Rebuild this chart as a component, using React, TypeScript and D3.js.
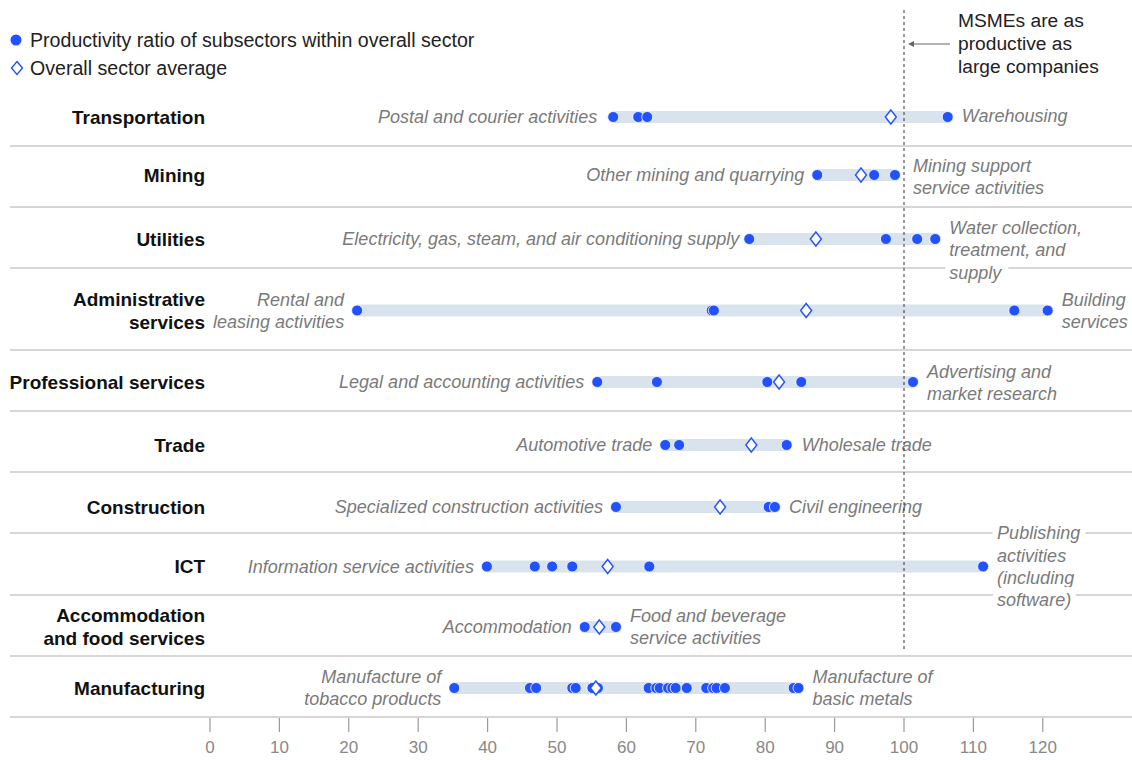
import React, { useEffect } from "react";
import * as d3 from "d3";

// ---------- DATA ----------
const sectorLines: string[][] = [
  ["Transportation"],
  ["Mining"],
  ["Utilities"],
  ["Administrative", "services"],
  ["Professional services"],
  ["Trade"],
  ["Construction"],
  ["ICT"],
  ["Accommodation", "and food services"],
  ["Manufacturing"],
];

const subsectorValues: number[][] = [
  [58.1, 61.7, 63.0, 106.3],
  [87.5, 95.7, 98.7],
  [77.7, 97.4, 101.9, 104.5],
  [21.2, 72.3, 72.6, 115.9, 120.7],
  [55.8, 64.4, 80.3, 85.2, 101.3],
  [65.6, 67.6, 83.1],
  [58.5, 80.5, 81.4],
  [39.9, 46.8, 49.3, 52.2, 63.3, 111.4],
  [54.0, 58.5],
  [35.2, 46.1, 47.0, 52.2, 52.7, 55.1, 55.9, 63.2, 64.3, 64.8, 66.0, 66.6, 67.1, 68.7, 71.5, 72.5, 73.0, 74.2, 84.1, 84.8],
];

const sectorAverages: number[] = [98.1, 93.8, 87.3, 85.9, 82.0, 78.0, 73.5, 57.3, 56.1, 55.6];

const leftLabels: string[][] = [
  ["Postal and courier activities"],
  ["Other mining and quarrying"],
  ["Electricity, gas, steam, and air conditioning supply"],
  ["Rental and", "leasing activities"],
  ["Legal and accounting activities"],
  ["Automotive trade"],
  ["Specialized construction activities"],
  ["Information service activities"],
  ["Accommodation"],
  ["Manufacture of", "tobacco products"],
];

const rightLabels: string[][] = [
  ["Warehousing"],
  ["Mining support", "service activities"],
  ["Water collection,", "treatment, and", "supply"],
  ["Building", "services"],
  ["Advertising and", "market research"],
  ["Wholesale trade"],
  ["Civil engineering"],
  ["Publishing", "activities", "(including", "software)"],
  ["Food and beverage", "service activities"],
  ["Manufacture of", "basic metals"],
];

const xTicks: number[] = [0, 10, 20, 30, 40, 50, 60, 70, 80, 90, 100, 110, 120];
const parityValue = 100;
const legendItems: string[] = ["Productivity ratio of subsectors within overall sector", "Overall sector average"];
const annotationLines: string[] = ["MSMEs are as", "productive as", "large companies"];

// ---------- LAYOUT / STYLE ----------
const W = 1132;
const H = 760;
const rowTop = 85;
const rowHeights = [61, 61, 61, 82, 61, 61, 61, 62, 61, 61];
const rowShift = [0, -3, 0, 0, 0, 2, 3, 1, 0, 0];
const rightLabelShift = [-1, 2, 11, 0, 1, 0, 0, 0, 0, 0];
const rightLabelDx = [0, 4, 0, 0, 0, 1, 0, 0, 0, 0];
const leftLabelDx = [3, 0, -3, 0, 0, 0, 0, 0, 0, 0];
const BLUE = "#2251FF";
const BAR = "#D9E3EE";
const GREY_TXT = "#7a7a7a";
const FONT = "'Liberation Sans', Arial, sans-serif";

export default function App() {
  useEffect(() => {
    document.body.style.margin = "0";
  }, []);

  const x = d3.scaleLinear().domain([0, 100]).range([210, 904]);

  const tops: number[] = [];
  let acc = rowTop;
  rowHeights.forEach((h) => {
    tops.push(acc);
    acc += h;
  });
  const bottom = acc;
  const centers = tops.map((t, i) => t + rowHeights[i] / 2 + 1.5 + rowShift[i]);

  const lineH = 22.3;
  const diamond = (cx: number, cy: number, w = 5.5, h = 7) =>
    `M${cx},${cy - h}L${cx + w},${cy}L${cx},${cy + h}L${cx - w},${cy}Z`;

  return (
    <svg width={W} height={H} style={{ display: "block", fontFamily: FONT }}>
      <rect width={W} height={H} fill="#fff" />

      {/* legend */}
      <g>
        <circle cx={16} cy={40} r={5.5} fill={BLUE} />
        <text x={30} y={40} dy="0.35em" fontSize={19.6} fill="#222">{legendItems[0]}</text>
        <path d={diamond(17, 68, 5.5, 6.5)} fill="#fff" stroke={BLUE} strokeWidth={1.4} />
        <text x={30} y={68} dy="0.35em" fontSize={19.6} fill="#222">{legendItems[1]}</text>
      </g>

      {/* separators */}
      {tops.slice(1).concat([bottom]).map((y, i) => (
        <line key={"sep" + i} x1={10} x2={W} y1={y} y2={y} stroke="#c8c8c8" strokeWidth={1.5} />
      ))}

      {/* rows */}
      {sectorLines.map((lines, i) => {
        const cy = centers[i];
        const vals = subsectorValues[i];
        const mn = d3.min(vals)!;
        const mx = d3.max(vals)!;
        const lOff = ((lines.length - 1) * 23) / 2;
        const ll = leftLabels[i];
        const rl = rightLabels[i];
        const llOff = ((ll.length - 1) * lineH) / 2;
        const rlOff = ((rl.length - 1) * lineH) / 2 - rightLabelShift[i];
        return (
          <g key={"row" + i}>
            {lines.map((t, k) => (
              <text key={k} x={205} y={cy - lOff + k * 23} dy="0.35em" textAnchor="end" fontSize={19} fontWeight="bold" fill="#111">
                {t}
              </text>
            ))}
            <rect x={x(mn)} y={cy - 6} width={x(mx) - x(mn)} height={12} fill={BAR} />
            {ll.map((t, k) => (
              <text key={"l" + k} x={x(mn) - 13 - leftLabelDx[i]} y={cy - llOff + k * lineH} dy="0.35em" textAnchor="end" fontSize={18} fontStyle="italic" fill={GREY_TXT}>
                {t}
              </text>
            ))}
            {rl.map((t, k) => (
              <text key={"r" + k} x={x(mx) + 14 + rightLabelDx[i]} y={cy - rlOff + k * lineH} dy="0.35em" textAnchor="start" fontSize={18} fontStyle="italic" fill={GREY_TXT}
                stroke="#fff" strokeWidth={12} strokeLinejoin="round" style={{ paintOrder: "stroke" }}>
                {t}
              </text>
            ))}
            {vals.map((v, k) => (
              <circle key={"d" + k} cx={x(v)} cy={cy} r={5.5} fill={BLUE} stroke="#fff" strokeWidth={0.8} />
            ))}
            <path d={diamond(x(sectorAverages[i]), cy)} fill="#fff" stroke={BLUE} strokeWidth={1.4} />
          </g>
        );
      })}

      {/* parity line */}
      <line x1={x(parityValue)} x2={x(parityValue)} y1={10} y2={652} stroke="#333" strokeWidth={1} strokeDasharray="3,3" />

      {/* annotation */}
      <g>
        <line x1={950} x2={910} y1={44} y2={44} stroke="#666" strokeWidth={1.2} />
        <path d="M908,44L914,41L914,47Z" fill="#666" />
        {annotationLines.map((t, k) => (
          <text key={k} x={958} y={20 + k * 23} dy="0.35em" fontSize={19.2} fill="#222">{t}</text>
        ))}
      </g>

      {/* axis */}
      <g>
        {xTicks.map((t) => (
          <g key={"t" + t}>
            <line x1={x(t)} x2={x(t)} y1={bottom + 1} y2={bottom + 15} stroke="#999" strokeWidth={1.2} />
            <text x={x(t)} y={bottom + 30} dy="0.35em" textAnchor="middle" fontSize={17} fill="#888">{t}</text>
          </g>
        ))}
      </g>
    </svg>
  );
}
